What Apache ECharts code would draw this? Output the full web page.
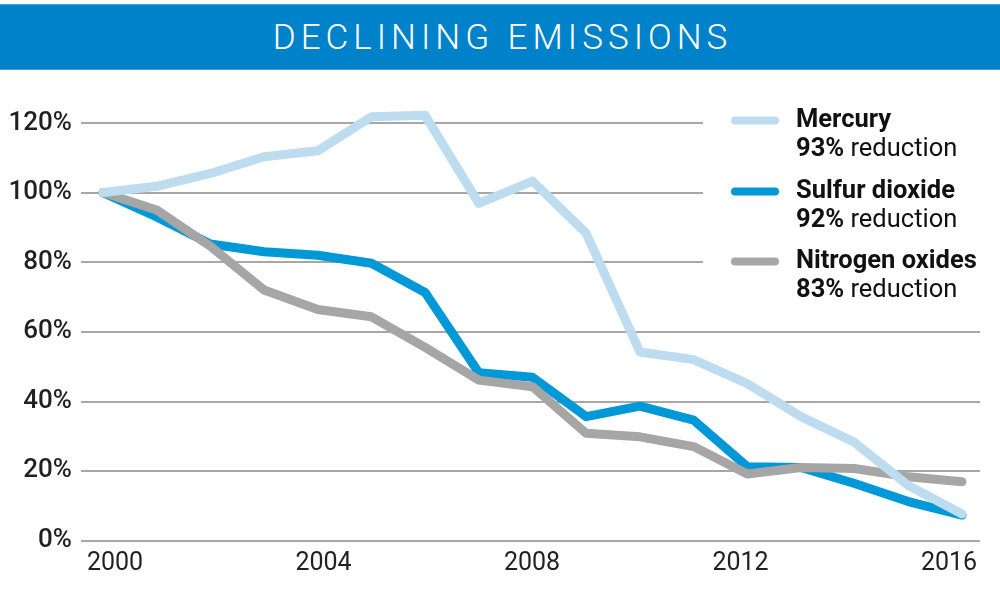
<!DOCTYPE html>
<html>
<head>
<meta charset="utf-8">
<script src="https://cdn.jsdelivr.net/npm/echarts@6/dist/echarts.min.js"></script>
<style>
  html, body { margin: 0; padding: 0; background: #fff; }
  #wrap { position: relative; width: 1000px; height: 608px; }
  #chart { position: absolute; left: 0; top: 0; width: 1000px; height: 608px; }
  #banner {
    position: absolute; left: 0; top: 4px; width: 1000px; height: 66px;
    background: #0082ca; border-top: 1px solid #3fa3dc; border-bottom: 1px solid #3fa3dc;
    box-sizing: border-box; color: #fff; text-align: center;
    font-family: Roboto, "Noto Sans", sans-serif; font-weight: 300; font-size: 35px;
    line-height: 66px; letter-spacing: 5px; padding-left: 5px;
  }
</style>
</head>
<body>
<div id="wrap">
  <div id="chart"></div>
  <div id="banner">DECLINING EMISSIONS</div>
</div>
<script>
const years = [2000, 2001, 2002, 2003, 2004, 2005, 2006, 2007, 2008, 2009, 2010, 2011, 2012, 2013, 2014, 2015, 2016];
const mercury = [100, 101.8, 105.5, 110.3, 112, 121.8, 122.2, 96.9, 103.3, 88.3, 54.2, 52, 45.1, 35.6, 28.2, 15.8, 7.6];
const sulfurDioxide = [100, 93, 85.2, 83, 82, 79.7, 71.3, 48.2, 46.9, 35.6, 38.6, 34.6, 21.2, 21, 16.4, 11.2, 7.3];
const nitrogenOxides = [100, 95, 84.6, 72, 66.4, 64.3, 55.5, 46.1, 44.2, 30.8, 29.8, 27, 19.1, 21, 20.7, 18.3, 16.9];
const seriesNames = ['Mercury', 'Sulfur dioxide', 'Nitrogen oxides'];
const reductions = ['93%', '92%', '83%'];
const xTickLabels = [2000, 2004, 2008, 2012, 2016];
const yTicks = [0, 20, 40, 60, 80, 100, 120];

const colors = ['#bddcf0', '#0098d6', '#a6a6a6'];
const values = [mercury, sulfurDioxide, nitrogenOxides];
const zs = [5, 3, 4];

const chart = echarts.init(document.getElementById('chart'), null, { renderer: 'canvas' });
const font = 'Roboto, "Noto Sans", sans-serif';
const pill = 'path://M4,0 H44 A4,4 0 0 1 44,8 H4 A4,4 0 0 1 4,0 Z';
const legendTops = [107.5, 178.5, 248.5];

const option = {
  animation: false,
  backgroundColor: '#fff',
  grid: { left: 81, right: 20, top: 123, bottom: 67.5, containLabel: false },
  xAxis: [
    {
      type: 'value', min: 1999.59, max: 2016.335,
      axisLine: { show: false }, axisTick: { show: false }, splitLine: { show: false },
      axisLabel: { show: false }
    },
    {
      type: 'value', min: 1999.348, max: 2016.595, position: 'bottom',
      axisLine: { show: false }, axisTick: { show: false }, splitLine: { show: false },
      axisLabel: {
        customValues: xTickLabels, color: '#231f20', fontFamily: font,
        fontSize: 25, fontWeight: 400, margin: 11,
        formatter: v => String(v)
      }
    }
  ],
  yAxis: {
    type: 'value', min: 0, max: 120, interval: 20,
    axisLine: { show: false }, axisTick: { show: false },
    splitLine: { show: true, lineStyle: { color: '#8a8a8a', width: 1.6 } },
    axisLabel: {
      color: '#231f20', fontFamily: font, fontSize: 26, fontWeight: 500, margin: 9,
      formatter: v => yTicks.includes(v) ? v + '%' : ''
    }
  },
  graphic: [
    { type: 'rect', z: 1, silent: true, shape: { x: 703, y: 100, width: 290, height: 200 }, style: { fill: '#fff' } }
  ],
  legend: seriesNames.map((name, i) => ({
    data: [name], orient: 'vertical', left: 731, top: legendTops[i], padding: 0,
    itemWidth: 48, itemHeight: 9, icon: pill, selectedMode: false, z: 10,
    itemStyle: { color: colors[i] },
    formatter: n => '{b|' + n + '}\n{p|' + reductions[i] + '}{r| reduction}',
    textStyle: {
      padding: [29, 0, 0, 12],
      rich: {
        b: { fontFamily: font, fontSize: 25.5, fontWeight: 700, color: '#111', lineHeight: 29 },
        p: { fontFamily: font, fontSize: 25.5, fontWeight: 700, color: '#111', lineHeight: 29 },
        r: { fontFamily: font, fontSize: 25.5, fontWeight: 400, color: '#111', lineHeight: 29 }
      }
    }
  })),
  series: seriesNames.map((name, i) => ({
    name, type: 'line', xAxisIndex: 0, z: zs[i], clip: false,
    data: years.map((y, k) => [y, values[i][k]]),
    showSymbol: false, symbol: 'none', smooth: false,
    itemStyle: { color: colors[i] },
    lineStyle: { color: colors[i], width: 9, cap: 'round', join: 'round' }
  }))
};
chart.setOption(option);
</script>
</body>
</html>
